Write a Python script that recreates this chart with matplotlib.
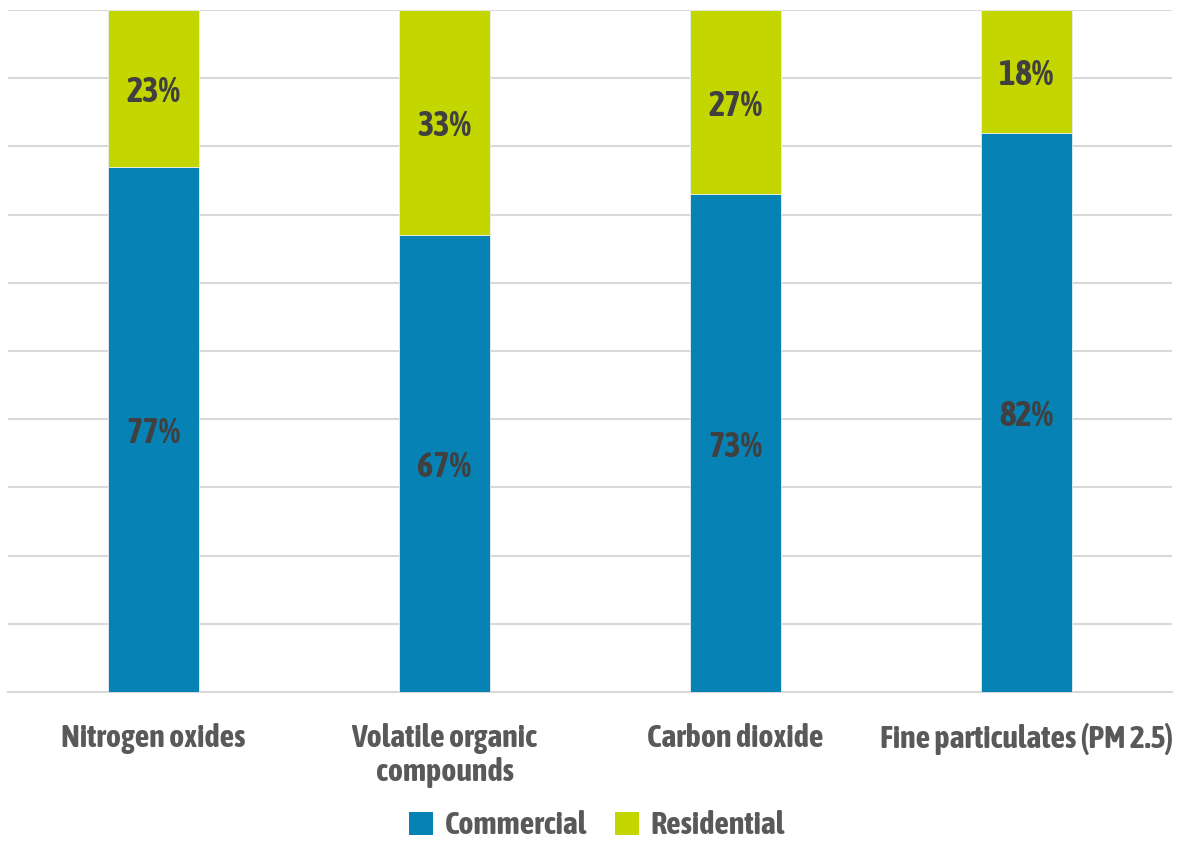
import matplotlib
matplotlib.use("Agg")
import matplotlib.pyplot as plt
from matplotlib import font_manager
from matplotlib.patches import Patch

categories = ["Nitrogen oxides", "Volatile organic\ncompounds", "Carbon dioxide", "Fine particulates (PM 2.5)"]
commercial = [77, 67, 73, 82]
residential = [23, 33, 27, 18]
series_names = ["Commercial", "Residential"]
colors = ["#0782B5", "#C4D600"]

# pick a condensed font if available
names = sorted({f.name for f in font_manager.fontManager.ttflist})
cond = [n for n in names if "Condensed" in n]
family = cond[0] if cond else "DejaVu Sans"
stretch = "normal" if cond else "condensed"
plt.rcParams["font.family"] = [family, "DejaVu Sans"]
plt.rcParams["font.stretch"] = stretch

fig = plt.figure(figsize=(11.77, 8.44), dpi=100)
ax = fig.add_axes([8/1177, 1-692/844, 1164/1177, 682/844])

x = list(range(len(categories)))
w = 0.316
ax.bar(x, commercial, w, color=colors[0], edgecolor="#E8EEF2", linewidth=0.6, zorder=3)
ax.bar(x, residential, w, bottom=commercial, color=colors[1], edgecolor="#E8EEF2", linewidth=0.6, zorder=3)

for i in x:
    for val, base in ((commercial[i], 0), (residential[i], commercial[i])):
        ax.annotate(f"{val}%", (i, base + val / 2), xytext=(0, -2.6), textcoords="offset points",
                    ha="center", va="center", fontsize=25, fontweight="bold",
                    color="#404040", zorder=4)

ax.set_xlim(-0.5, 3.5)
ax.set_ylim(0, 100)
ax.set_yticks(range(0, 101, 10))
ax.yaxis.grid(True, color="#D9D9D9", linewidth=1.5, zorder=0)
ax.set_yticklabels([])
ax.tick_params(axis="y", length=0)
ax.tick_params(axis="x", length=0, pad=22)
ax.set_xticks(x)
ax.set_xticklabels(categories, fontsize=23, fontweight="bold", color="#595959", linespacing=1.15)
for s in ["top", "right", "left"]:
    ax.spines[s].set_visible(False)
ax.spines["bottom"].set_color("#D9D9D9")
ax.spines["bottom"].set_linewidth(1.5)

handles = [Patch(facecolor=c) for c in colors]
fig.legend(handles, series_names, loc="center", bbox_to_anchor=(597/1177, 1-826/844),
           ncol=2, frameon=False, prop={"size": 23, "weight": "bold"},
           labelcolor="#595959", handlelength=0.75, handleheight=0.75, handletextpad=0.35,
           columnspacing=0.9)

fig.savefig("out.png", dpi=100)
